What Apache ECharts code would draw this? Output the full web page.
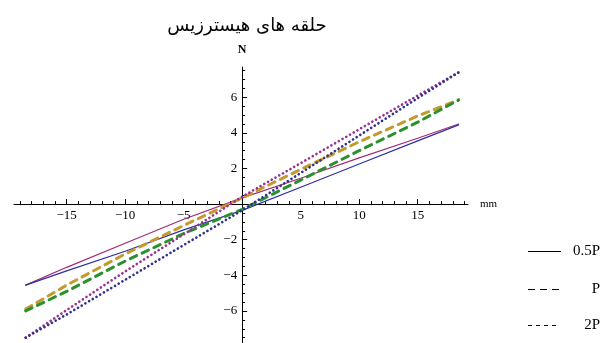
<!DOCTYPE html>
<html>
<head>
<meta charset="utf-8">
<script src="https://cdn.jsdelivr.net/npm/echarts@6/dist/echarts.min.js"></script>
<style>
  * { margin: 0; padding: 0; }
  body { background: #fff; }
  #chart { width: 610px; height: 343px; }
</style>
</head>
<body>
<div id="chart"></div>
<script>
var xs = [-18.5, -15, -10, -5, 0, 5, 10, 15, 18.5];
// 0.5P loop
var solidUpper = [-4.55, -3.55, -2.2, -0.85, 0.35, 1.45, 2.6, 3.7, 4.5];
var solidLower = [-4.55, -3.75, -2.65, -1.45, -0.35, 0.95, 2.25, 3.55, 4.45];
// P loop
var dashUpper = [-5.9, -4.55, -2.8, -1.2, 0.35, 1.95, 3.5, 4.95, 5.85];
var dashLower = [-6.0, -4.9, -3.2, -1.65, -0.3, 1.35, 3.0, 4.6, 5.85];
// 2P loop
var dotUpper = [-7.5, -5.95, -3.78, -1.7, 0.42, 2.3, 4.2, 6.1, 7.4];
var dotLower = [-7.5, -6.2, -4.25, -2.3, -0.35, 1.75, 3.85, 5.95, 7.4];

var xMajor = [-15, -10, -5, 5, 10, 15];
var yMajor = [-6, -4, -2, 2, 4, 6];
var xMinor = [];
for (var i = -19; i <= 19; i++) xMinor.push(i);
var yMinor = [];
for (var j = -15; j <= 15; j++) yMinor.push(j / 2);

var xMin = -19.5, xMax = 19.3, yMin = -7.8, yMax = 7.7;

function pairs(ys) {
  return xs.map(function (x, k) { return [x, ys[k]]; });
}
function fmt(v) {
  return v < 0 ? '\u2212' + (-v) : '' + v;
}

// plot box, and where the zero lines fall inside it
var L = 14, T = 67, W = 454, H = 276;
var zeroX = L + W * (0 - xMin) / (xMax - xMin);
var zeroY = T + H * (yMax - 0) / (yMax - yMin);

var labelFont = { fontFamily: 'Liberation Serif', fontSize: 13, color: '#000' };
var black = { color: '#000', width: 1 };

function line(name, ys, color, width, type) {
  return {
    name: name,
    type: 'line',
    xAxisIndex: 0,
    yAxisIndex: 0,
    data: pairs(ys),
    showSymbol: false,
    silent: true,
    lineStyle: { color: color, width: width, type: type, cap: 'round' }
  };
}
function hiddenX(g) {
  return { type: 'value', gridIndex: g, min: xMin, max: xMax, show: false };
}
function hiddenY(g) {
  return { type: 'value', gridIndex: g, min: yMin, max: yMax, show: false };
}

var myChart = echarts.init(document.getElementById('chart'));
myChart.setOption({
  animation: false,
  grid: [
    { left: L, top: T, width: W, height: H, outerBoundsMode: 'none' },                 // data
    { left: L, top: T, width: W, height: zeroY - T, outerBoundsMode: 'none' },         // x axis
    { left: L, top: T, width: W, height: zeroY - T, outerBoundsMode: 'none' },         // x minor ticks
    { left: zeroX, top: T, width: L + W - zeroX, height: H, outerBoundsMode: 'none' }, // y axis
    { left: zeroX, top: T, width: L + W - zeroX, height: H, outerBoundsMode: 'none' }  // y minor ticks
  ],
  xAxis: [
    hiddenX(0),
    {
      type: 'value', gridIndex: 1, min: xMin, max: xMax, position: 'bottom',
      name: 'mm', nameLocation: 'end', nameGap: 12,
      nameTextStyle: { fontFamily: 'Liberation Serif', fontSize: 11, color: '#000', verticalAlign: 'middle' },
      axisLine: { show: true, onZero: false, lineStyle: black },
      axisTick: { show: true, inside: true, length: 5, customValues: xMajor, lineStyle: black },
      axisLabel: Object.assign({ customValues: xMajor, margin: 5, formatter: fmt }, labelFont),
      splitLine: { show: false }
    },
    {
      type: 'value', gridIndex: 2, min: xMin, max: xMax, position: 'bottom',
      axisLine: { show: false, onZero: false },
      axisTick: { show: true, inside: true, length: 3, customValues: xMinor, lineStyle: black },
      axisLabel: { show: false },
      splitLine: { show: false }
    },
    hiddenX(3),
    hiddenX(4)
  ],
  yAxis: [
    hiddenY(0),
    hiddenY(1),
    hiddenY(2),
    {
      type: 'value', gridIndex: 3, min: yMin, max: yMax, position: 'left',
      name: 'N', nameLocation: 'end', nameGap: 11,
      nameTextStyle: { fontFamily: 'Liberation Serif', fontSize: 12, fontWeight: 'bold', color: '#000' },
      axisLine: { show: true, onZero: false, lineStyle: black },
      axisTick: { show: true, inside: true, length: 5, customValues: yMajor, lineStyle: black },
      axisLabel: Object.assign({ customValues: yMajor, margin: 5, formatter: fmt }, labelFont),
      splitLine: { show: false }
    },
    {
      type: 'value', gridIndex: 4, min: yMin, max: yMax, position: 'left',
      axisLine: { show: false, onZero: false },
      axisTick: { show: true, inside: true, length: 3, customValues: yMinor, lineStyle: black },
      axisLabel: { show: false },
      splitLine: { show: false }
    }
  ],
  series: [
    line('0.5P up', solidUpper, '#a32a74', 1.2, 'solid'),
    line('0.5P down', solidLower, '#2e2ea6', 1.2, 'solid'),
    line('P up', dashUpper, '#c39a2c', 3, [7, 6]),
    line('P down', dashLower, '#2a912e', 3, [7, 6]),
    line('2P up', dotUpper, '#9a2f95', 2.6, [0.1, 4.2]),
    line('2P down', dotLower, '#30308c', 2.6, [0.1, 4.2])
  ],
  graphic: [
    {
      type: 'text', x: 247, y: 26,
      style: { text: 'حلقه های هیسترزیس', fontFamily: 'DejaVu Sans', fontSize: 18, fill: '#000', align: 'center', verticalAlign: 'middle' }
    },
    { type: 'line', shape: { x1: 528, y1: 251.5, x2: 561, y2: 251.5 }, style: { stroke: '#000', lineWidth: 1 } },
    { type: 'text', x: 600, y: 251, style: { text: '0.5P', fontFamily: 'Liberation Serif', fontSize: 15, fill: '#000', align: 'right', verticalAlign: 'middle' } },
    { type: 'line', shape: { x1: 528, y1: 289.5, x2: 561, y2: 289.5 }, style: { stroke: '#000', lineWidth: 1, lineDash: [7, 5] } },
    { type: 'text', x: 600, y: 289, style: { text: 'P', fontFamily: 'Liberation Serif', fontSize: 15, fill: '#000', align: 'right', verticalAlign: 'middle' } },
    { type: 'line', shape: { x1: 528, y1: 325.5, x2: 558, y2: 325.5 }, style: { stroke: '#000', lineWidth: 1, lineDash: [4, 4] } },
    { type: 'text', x: 600, y: 325, style: { text: '2P', fontFamily: 'Liberation Serif', fontSize: 15, fill: '#000', align: 'right', verticalAlign: 'middle' } }
  ]
});
</script>
</body>
</html>
